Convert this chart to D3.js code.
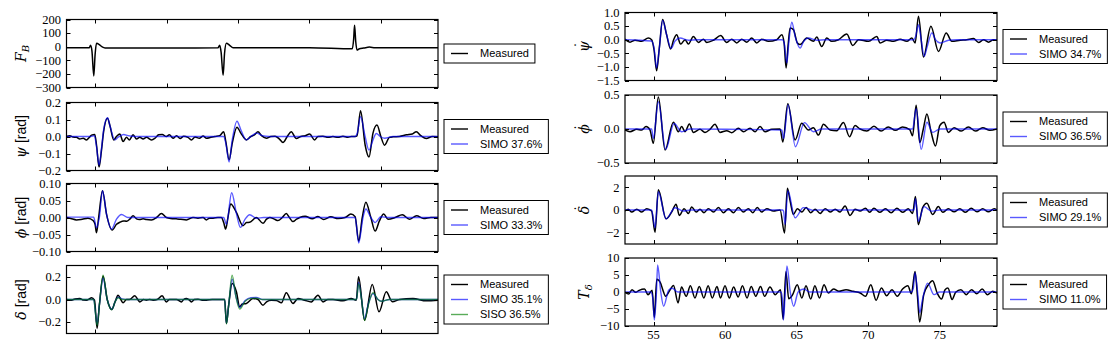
<!DOCTYPE html>
<html>
<head>
<meta charset="utf-8">
<script src="https://cdnjs.cloudflare.com/ajax/libs/d3/7.8.5/d3.min.js"></script>
<style>
  body { margin: 0; background: #fff; }
  svg { display: block; }
</style>
</head>
<body>
<svg id="chart" width="1115" height="351"></svg>
<script>
// time axis shared by every panel
const tDomain = [53, 79];
const xTicks = [55, 60, 65, 70, 75];

// ---- left column, values as [t, value] ----
const fbMeasured = [[53,-8],[54,-8],[54.6,-7],[54.68,10],[54.78,-30],[54.91,-215],[55.0,-60],[55.1,25],[55.3,15],[55.5,-2],[55.7,-9],[57,-9],[60,-9],[63.6,-8],[63.72,10],[63.82,-40],[63.96,-210],[64.06,-50],[64.19,25],[64.4,12],[64.66,-8],[67,-8],[70,-7],[73.0,-15],[73.1,60],[73.16,158],[73.24,40],[73.33,-25],[73.5,-15],[73.8,-10],[74.2,-3],[74.6,-8],[79,-7]];

const psiMeasured = [[53,0],[53.23,0.005],[53.45,-0.003],[53.7,-0.005],[53.93,-0.015],[54.17,-0.01],[54.4,-0.02],[54.6,-0.005],[54.75,0.008],[54.98,0.012],[55.1,-0.05],[55.28,-0.18],[55.45,-0.08],[55.6,0.03],[55.87,0.107],[56.05,0.06],[56.3,-0.02],[56.5,0],[56.73,0.015],[56.96,-0.03],[57.2,-0.005],[57.4,-0.02],[57.66,0.01],[57.9,-0.015],[58.13,-0.005],[58.36,-0.015],[58.6,-0.005],[58.94,-0.02],[59.2,-0.01],[59.45,0.01],[59.7,0.012],[59.99,0],[60.2,0.01],[60.46,-0.01],[60.7,0.005],[60.95,-0.012],[61.2,0.002],[61.5,-0.005],[61.74,-0.02],[62.0,-0.003],[62.3,-0.01],[62.56,0.003],[62.8,-0.01],[63.1,-0.005],[63.4,0],[63.72,0.005],[64.0,0.028],[64.15,-0.03],[64.38,-0.137],[64.6,-0.04],[64.93,0.055],[65.2,0.02],[65.59,-0.02],[65.9,0],[66.15,0.01],[66.4,0.028],[66.65,0.005],[66.99,-0.01],[67.3,0],[67.6,0.002],[67.9,-0.015],[68.15,-0.035],[68.45,0],[68.73,0.028],[69.08,-0.012],[69.4,0],[69.7,0.005],[70.02,0.014],[70.37,-0.02],[70.6,0],[70.95,0.002],[71.3,-0.005],[71.65,0],[72.0,-0.005],[72.35,0.002],[72.7,-0.005],[72.93,0],[73.2,0],[73.33,0.004],[73.58,0.152],[73.9,-0.05],[74.17,-0.121],[74.45,0.02],[74.73,0.067],[75.0,0],[75.26,-0.051],[75.6,-0.005],[75.85,-0.002],[76.3,0],[76.8,0.01],[77.2,0.015],[77.48,0.028],[77.8,0.005],[78.18,-0.012],[78.6,0],[79,-0.002]];
const psiSimo = [[53,0],[54.7,0],[54.95,0.005],[55.1,-0.06],[55.28,-0.17],[55.45,-0.07],[55.6,0.04],[55.87,0.11],[56.05,0.06],[56.38,-0.02],[56.6,-0.005],[57.0,0.012],[57.3,0.005],[57.8,0],[64.0,0],[64.15,-0.04],[64.38,-0.15],[64.6,-0.02],[64.93,0.09],[65.2,0.04],[65.59,-0.02],[65.9,0],[66.3,0.02],[66.7,0.005],[67.2,0],[73.2,0],[73.35,0.02],[73.58,0.117],[73.9,0],[74.17,-0.08],[74.45,-0.02],[74.68,0.018],[74.95,0],[75.26,-0.01],[75.85,0],[79,0]];

const phiMeasured = [[53,0],[53.3,-0.003],[53.7,-0.007],[54.1,-0.005],[54.5,-0.002],[54.86,-0.009],[55.0,-0.02],[55.1,-0.045],[55.25,0],[55.52,0.079],[55.8,0.01],[56.2,-0.037],[56.5,-0.02],[56.73,-0.014],[57.0,-0.01],[57.2,-0.011],[57.45,-0.004],[57.66,0.005],[57.9,-0.004],[58.1,-0.006],[58.36,-0.004],[58.6,-0.006],[58.94,-0.007],[59.3,0],[59.64,0.012],[59.99,0],[60.3,-0.003],[60.69,-0.004],[61.0,-0.005],[61.39,-0.007],[61.86,0],[62.2,-0.002],[62.56,0],[62.79,-0.007],[63.0,-0.002],[63.26,-0.002],[63.6,0],[63.84,0],[64.0,-0.015],[64.14,-0.034],[64.3,0],[64.49,0.04],[64.89,0.015],[65.35,-0.024],[65.6,-0.015],[65.82,-0.014],[66.29,0],[66.75,-0.017],[67.0,-0.005],[67.22,0],[67.6,-0.006],[67.8,-0.009],[68.1,0],[68.38,0.012],[68.6,0],[68.85,-0.012],[69.1,-0.005],[69.32,0],[69.7,0.004],[70.2,-0.004],[70.6,0.003],[71.0,-0.006],[71.5,0.002],[72.0,-0.003],[72.5,0],[72.9,0.01],[73.2,0.002],[73.45,-0.07],[73.7,0],[73.95,0.045],[74.3,0],[74.6,-0.04],[74.9,-0.01],[75.2,0.01],[75.5,-0.005],[76.0,0],[76.5,0.008],[77.0,-0.005],[77.5,0.005],[78.0,-0.003],[78.5,0],[79,0]];
const phiSimo = [[53,0.001],[54.9,0.001],[55.1,-0.03],[55.3,0],[55.52,0.079],[55.8,0.01],[56.15,-0.034],[56.5,-0.005],[56.85,0.009],[57.3,0],[57.8,0],[64.0,0],[64.19,-0.02],[64.56,0.073],[64.9,0.01],[65.17,-0.029],[65.5,-0.005],[65.82,0.008],[66.3,-0.002],[66.8,0],[73.2,0],[73.45,-0.075],[73.75,0],[73.95,0.025],[74.3,0],[74.6,-0.015],[75.0,0.002],[75.5,0],[79,0]];

const deltaMeasured = [[53,0],[53.35,-0.006],[53.6,0.005],[53.93,0.009],[54.2,-0.005],[54.4,-0.006],[54.6,0.005],[54.75,0.015],[54.96,-0.006],[55.14,-0.256],[55.3,-0.05],[55.56,0.206],[55.85,0],[56.17,-0.088],[56.4,-0.02],[56.61,0.038],[56.8,0],[56.96,-0.029],[57.2,0],[57.4,0],[57.78,0.032],[58.01,-0.005],[58.13,-0.021],[58.4,0],[58.59,-0.006],[58.8,0],[59.06,-0.006],[59.35,0],[59.69,0.032],[59.99,-0.021],[60.2,0],[60.46,0],[60.7,0],[61.04,-0.021],[61.2,0],[61.39,0.009],[61.55,0],[61.74,-0.021],[61.95,0],[62.21,0.003],[62.5,-0.006],[62.79,-0.006],[63.2,0],[63.72,0],[64.07,0],[64.19,-0.212],[64.35,-0.05],[64.59,0.141],[64.89,0.068],[65.12,-0.065],[65.3,-0.04],[65.59,-0.035],[66.05,0.009],[66.4,0],[66.75,-0.05],[67.0,-0.02],[67.34,-0.006],[67.7,-0.01],[68.04,-0.029],[68.38,0.06],[68.85,-0.035],[69.2,0.009],[69.66,-0.006],[70.13,-0.021],[70.6,0.038],[70.95,-0.021],[71.3,0],[71.65,0],[72.35,-0.012],[72.93,0.009],[73.28,-0.006],[73.44,0.2],[73.86,-0.182],[74.4,0.132],[74.87,-0.109],[75.38,0.068],[75.8,-0.02],[76.31,0],[77.25,0.009],[78.18,-0.012],[79,-0.006]];
const deltaSimo = [[53,0],[54.9,0],[55.14,-0.22],[55.3,-0.05],[55.56,0.19],[55.85,0],[56.17,-0.088],[56.4,-0.02],[56.61,0.02],[56.9,0.005],[57.3,0],[64.07,0],[64.19,-0.212],[64.35,-0.05],[64.59,0.18],[64.85,0.03],[65.12,-0.07],[65.5,-0.01],[65.9,0.015],[66.29,0.018],[66.7,0],[73.3,0],[73.44,0.15],[73.65,0],[73.86,-0.17],[74.1,-0.05],[74.45,0.053],[74.8,0],[75.03,-0.015],[75.6,0],[79,0]];
const deltaSiso = [[53,0],[54.9,0],[55.14,-0.23],[55.3,-0.05],[55.56,0.215],[55.85,0],[56.17,-0.09],[56.4,-0.02],[56.61,0.015],[56.9,0],[57.3,0],[64.07,0],[64.19,-0.215],[64.35,-0.05],[64.59,0.215],[64.85,0.03],[65.12,-0.085],[65.5,-0.015],[65.9,0.01],[66.29,0.012],[66.7,0],[73.3,0],[73.44,0.14],[73.65,0],[73.86,-0.185],[74.1,-0.06],[74.45,0.06],[74.8,0],[75.03,-0.015],[75.6,0],[79,0]];

// ---- right column ----
const psiDotMeasured = [[53,0.02],[53.35,-0.09],[53.7,-0.02],[54.17,-0.06],[54.63,0.06],[54.86,0],[55.03,-0.37],[55.21,-1.14],[55.4,-0.3],[55.63,0.74],[55.9,0.2],[56.19,-0.34],[56.4,0],[56.61,0.18],[56.89,-0.16],[57.2,0],[57.43,-0.16],[57.78,0.12],[58.13,-0.1],[58.48,0.02],[58.71,-0.1],[59.18,-0.02],[59.69,0.15],[60.11,-0.1],[60.46,0.02],[60.81,-0.12],[61.16,0.02],[61.51,-0.09],[61.86,0.06],[62.21,-0.12],[62.56,0.02],[63.02,-0.06],[63.61,0],[63.96,0.18],[64.12,-0.12],[64.26,-1.04],[64.4,-0.2],[64.54,0.43],[64.77,0.37],[65.05,-0.12],[65.24,-0.18],[65.7,0.06],[66.17,-0.06],[66.4,0.1],[66.75,-0.25],[67.1,0.06],[67.45,-0.06],[67.92,0],[68.5,0.21],[68.92,-0.21],[69.32,0],[70.02,-0.06],[70.6,0.12],[70.83,-0.12],[71.3,-0.02],[71.76,-0.06],[72.23,0.02],[72.7,-0.06],[73.05,0.06],[73.28,-0.12],[73.51,0.86],[73.86,-0.64],[74.38,0.49],[74.91,-0.43],[75.45,0.25],[75.84,-0.06],[76.43,-0.02],[76.89,0],[77.36,0.04],[77.71,-0.1],[78.06,0],[78.41,-0.09],[78.76,0],[79,-0.02]];
const psiDotSimo = [[53,0],[54.86,-0.05],[55.03,-0.3],[55.21,-1.04],[55.4,-0.3],[55.63,0.71],[55.9,0.2],[56.22,-0.32],[56.5,-0.05],[56.85,0.06],[57.43,-0.02],[58.0,0],[64.0,0],[64.12,-0.1],[64.31,-0.86],[64.45,-0.1],[64.66,0.64],[64.9,0.1],[65.24,-0.31],[65.5,-0.05],[65.82,0.06],[66.4,-0.02],[67.0,0],[73.16,0],[73.3,0.1],[73.51,0.55],[73.7,0],[73.91,-0.61],[74.1,-0.3],[74.45,0.25],[74.7,0],[75.03,-0.12],[75.61,-0.02],[76.2,0],[79,0]];

const phiDotMeasured = [[53,-0.015],[53.35,-0.04],[53.82,-0.005],[54.17,-0.015],[54.47,0.035],[54.75,-0.015],[54.98,-0.21],[55.33,0.47],[55.8,-0.31],[56.38,0.1],[56.73,-0.04],[56.96,0.035],[57.2,-0.04],[57.5,0.074],[57.78,-0.05],[58.24,-0.005],[58.59,-0.05],[58.94,-0.005],[59.29,0.07],[59.64,-0.05],[60.11,-0.025],[60.46,-0.054],[60.93,0.01],[61.28,-0.04],[61.74,0.01],[62.09,-0.04],[62.44,0.035],[62.79,-0.04],[63.26,-0.005],[63.84,0],[64.03,-0.19],[64.38,0.37],[64.89,-0.16],[65.35,0.084],[65.82,-0.015],[66.17,0.02],[66.52,-0.09],[66.87,0.07],[67.34,-0.015],[67.8,-0.025],[68.27,0.094],[68.69,-0.113],[69.08,0.05],[69.43,0],[69.9,-0.03],[70.4,0.04],[70.9,-0.03],[71.4,0.03],[71.9,-0.02],[72.4,0.03],[72.9,-0.01],[73.1,-0.1],[73.35,0.35],[73.6,-0.2],[73.85,0],[74.1,0.22],[74.4,-0.05],[74.7,-0.25],[75.0,0.05],[75.3,0.1],[75.6,-0.05],[76.0,0.02],[76.5,-0.03],[77.0,0.03],[77.5,-0.03],[78.0,0.02],[78.5,-0.02],[79,0]];
const phiDotSimo = [[53,0],[54.86,0],[54.98,-0.14],[55.33,0.4],[55.84,-0.3],[56.43,0.08],[56.96,-0.04],[57.55,0],[63.96,-0.015],[64.08,-0.14],[64.4,0.355],[64.91,-0.26],[65.54,0.094],[66.17,-0.04],[66.75,0],[73.1,0],[73.35,0.3],[73.7,-0.3],[74.1,0.1],[74.5,-0.05],[75.0,0],[79,0]];

const deltaDotMeasured = [[53,-0.09],[53.23,0.06],[53.47,-0.18],[53.82,0.06],[54.17,-0.18],[54.52,0.12],[54.86,-0.09],[55.1,-1.97],[55.33,1.79],[55.87,-0.78],[56.26,-0.18],[56.57,0.51],[56.8,-0.48],[57.13,0.12],[57.43,-0.3],[57.66,0.27],[57.97,-0.18],[58.24,0.06],[58.52,-0.24],[58.83,0.12],[59.18,-0.18],[59.53,0.21],[59.88,-0.24],[60.23,0.12],[60.58,-0.24],[60.93,0.21],[61.28,-0.18],[61.62,0.12],[61.93,-0.24],[62.25,0.21],[62.56,-0.18],[62.91,0.12],[63.37,-0.09],[63.84,0],[64.15,-2.03],[64.35,1.91],[64.54,0.81],[64.77,-0.39],[65.05,0.12],[65.35,-0.18],[65.66,0.21],[65.98,-0.24],[66.29,0.06],[66.64,-0.3],[66.99,0.12],[67.34,-0.18],[67.69,0.06],[68.03,-0.18],[68.38,0.36],[68.73,-0.48],[69.08,0.06],[69.43,-0.09],[69.8,0.15],[70.1,-0.2],[70.4,0.15],[70.8,-0.2],[71.2,0.1],[71.6,-0.25],[72.0,0.15],[72.4,-0.2],[72.8,0.1],[73.1,-0.3],[73.3,1.2],[73.5,-1.3],[73.8,0.2],[74.1,0.6],[74.5,-0.4],[74.9,0.3],[75.2,-0.2],[75.6,0.1],[76.0,-0.15],[76.4,0.1],[76.8,-0.2],[77.2,0.15],[77.6,-0.15],[78.0,0.1],[78.4,-0.15],[78.8,0.1],[79,0]];
const deltaDotSimo = [[53,0],[54.86,0],[55.1,-1.58],[55.33,1.61],[55.87,-0.78],[56.5,0.2],[57.08,-0.09],[57.6,0],[64.0,0],[64.08,-0.09],[64.19,-1.28],[64.38,1.7],[64.89,-0.69],[65.47,0.21],[66.17,-0.03],[66.6,0],[73.2,0],[73.3,1.0],[73.5,-1.0],[73.9,0.3],[74.4,-0.1],[75,0],[79,0]];

const tdMeasured = [[53,-0.1],[53.25,-0.58],[53.49,0.68],[53.74,-0.1],[53.99,0.49],[54.36,0.87],[54.61,-0.78],[54.9,0.49],[55.05,-7.5],[55.22,3.78],[55.47,2.8],[55.64,0.68],[55.84,-1.26],[56.09,0.19],[56.39,1.94],[56.71,-3.2],[56.95,1.46],[57.28,-1.26],[57.57,1.84],[57.89,-1.75],[58.19,1.65],[58.51,-1.75],[58.81,1.84],[59.1,-1.75],[59.43,1.65],[59.67,-1.75],[59.99,1.84],[60.29,-1.75],[60.59,1.46],[60.91,-1.45],[61.21,1.84],[61.53,-1.75],[61.82,1.65],[62.14,-1.26],[62.47,1.65],[62.76,-1.26],[63.13,1.46],[63.5,-0.78],[63.87,0.68],[64.05,-8],[64.25,6.0],[64.44,-2.0],[64.69,-1.0],[65.04,2.13],[65.36,-1.75],[65.65,1.84],[65.98,-2.04],[66.27,1.84],[66.59,-1.75],[66.91,2.13],[67.21,-0.29],[67.58,0.87],[67.95,0.19],[68.45,0.68],[68.94,0.19],[69.44,-0.29],[69.81,-1.26],[70.18,2.13],[70.55,-2.4],[70.92,1.16],[71.29,-1.07],[71.66,0.68],[72.03,-1.26],[72.4,0.87],[72.77,1.84],[73.02,-0.5],[73.27,6.0],[73.44,-1.26],[73.59,-8.8],[73.88,-0.78],[74.21,2.13],[74.5,3.3],[74.82,-0.29],[75.12,-2.04],[75.37,0.68],[75.57,1.16],[75.86,-2.2],[76.11,-0.1],[76.48,0.68],[76.85,-0.78],[77.22,0.68],[77.59,-0.5],[77.96,0.87],[78.33,-0.78],[78.7,0.19],[79,-0.29]];
const tdSimo = [[53,0],[54.8,0],[54.95,-2],[55.05,-8.25],[55.2,0],[55.28,7.95],[55.5,0],[55.7,-4.17],[56.05,0.5],[56.3,1.1],[56.7,0],[63.9,0],[64.0,-2],[64.07,-8.25],[64.2,0],[64.32,7.66],[64.55,0],[64.79,-4.17],[65.1,0],[65.5,0.87],[65.9,0],[73.0,0],[73.15,1.0],[73.27,5.7],[73.45,0],[73.6,-6.1],[73.8,-2.0],[74.15,2.6],[74.6,-0.78],[75.0,0],[79,0]];

// legend names
const nameMeasured = "Measured";
const simoFit = ["37.6%", "33.3%", "35.1%", "34.7%", "36.5%", "29.1%", "11.0%"];
const sisoFit = ["36.5%"];

const colors = { meas: "#000", simo: "#0000ff", siso: "#008000" };

const svg = d3.select("#chart");

const colLeft = [66.5, 438];
const colRight = [625, 997];
const panelH = 68;

const panels = [
  { col: colLeft, top: 19.5, yDomain: [-300, 200], yTicks: [-300, -200, -100, 0, 100, 200], fmt: d3.format("d"),
    label: [{ t: "F", it: true }, { t: "B", it: true, sub: true }],
    series: [{ data: fbMeasured, kind: "meas", name: nameMeasured }] },
  { col: colLeft, top: 102.5, yDomain: [-0.2, 0.2], yTicks: [-0.2, -0.1, 0, 0.1, 0.2], fmt: d3.format(".1f"),
    label: [{ t: "\u03C8", it: true }, { t: " [rad]" }],
    series: [{ data: psiMeasured, kind: "meas", name: nameMeasured }, { data: psiSimo, kind: "simo", name: "SIMO " + simoFit[0] }] },
  { col: colLeft, top: 183.5, yDomain: [-0.1, 0.1], yTicks: [-0.1, -0.05, 0, 0.05, 0.1], fmt: d3.format(".2f"),
    label: [{ t: "\u03D5", it: true }, { t: " [rad]" }],
    series: [{ data: phiMeasured, kind: "meas", name: nameMeasured }, { data: phiSimo, kind: "simo", name: "SIMO " + simoFit[1] }] },
  { col: colLeft, top: 265.5, yDomain: [-0.3, 0.3], yTicks: [-0.2, 0, 0.2], fmt: d3.format(".1f"),
    label: [{ t: "\u03B4", it: true }, { t: " [rad]" }],
    series: [{ data: deltaMeasured, kind: "meas", name: nameMeasured }, { data: deltaSimo, kind: "simo", name: "SIMO " + simoFit[2] }, { data: deltaSiso, kind: "siso", name: "SISO " + sisoFit[0] }] },
  { col: colRight, top: 12.5, yDomain: [-1.5, 1.0], yTicks: [-1.5, -1, -0.5, 0, 0.5, 1], fmt: d3.format(".1f"),
    label: [{ t: "\u03C8", it: true }], dot: true,
    series: [{ data: psiDotMeasured, kind: "meas", name: nameMeasured }, { data: psiDotSimo, kind: "simo", name: "SIMO " + simoFit[3] }] },
  { col: colRight, top: 95, yDomain: [-0.5, 0.5], yTicks: [-0.5, 0, 0.5], fmt: d3.format(".1f"),
    label: [{ t: "\u03D5", it: true }], dot: true,
    series: [{ data: phiDotMeasured, kind: "meas", name: nameMeasured }, { data: phiDotSimo, kind: "simo", name: "SIMO " + simoFit[4] }] },
  { col: colRight, top: 176, yDomain: [-3, 3], yTicks: [-2, 0, 2], fmt: d3.format("d"),
    label: [{ t: "\u03B4", it: true }], dot: true,
    series: [{ data: deltaDotMeasured, kind: "meas", name: nameMeasured }, { data: deltaDotSimo, kind: "simo", name: "SIMO " + simoFit[5] }] },
  { col: colRight, top: 258, yDomain: [-10, 10], yTicks: [-10, -5, 0, 5, 10], fmt: d3.format("d"), xLabels: true,
    label: [{ t: "T", it: true }, { t: "\u03B4", it: true, sub: true }],
    series: [{ data: tdMeasured, kind: "meas", name: nameMeasured }, { data: tdSimo, kind: "simo", name: "SIMO " + simoFit[6] }] },
];

const serif = "'Liberation Serif', 'DejaVu Serif', serif";
const mathFont = "'DejaVu Serif', serif";
const sans = "'Liberation Sans', Arial, sans-serif";

panels.forEach((p, i) => {
  const x = d3.scaleLinear().domain(tDomain).range(p.col);
  const y = d3.scaleLinear().domain(p.yDomain).range([p.top + panelH, p.top]);
  const g = svg.append("g");

  svg.append("clipPath").attr("id", "clip" + i)
    .append("rect").attr("x", p.col[0]).attr("y", p.top)
    .attr("width", p.col[1] - p.col[0]).attr("height", panelH);

  const line = d3.line()
    .x(d => x(d[0]))
    .y(d => y(d[1]))
    .curve(d3.curveMonotoneX);

  g.append("g").attr("clip-path", `url(#clip${i})`)
    .selectAll("path")
    .data(p.series)
    .join("path")
    .attr("d", d => line(d.data))
    .attr("fill", "none")
    .attr("stroke", d => colors[d.kind])
    .attr("stroke-opacity", d => d.kind === "meas" ? 1 : 0.65)
    .attr("stroke-width", d => d.kind === "meas" ? 1.5 : 1.4)
    .attr("stroke-linejoin", "round");

  // ticks, inward on all four sides
  const tk = 4;
  const ticks = g.append("g").attr("stroke", "#000").attr("stroke-width", 1);
  xTicks.forEach(v => {
    const xx = Math.round(x(v)) + 0.5;
    ticks.append("line").attr("x1", xx).attr("x2", xx).attr("y1", p.top + panelH).attr("y2", p.top + panelH - tk);
    ticks.append("line").attr("x1", xx).attr("x2", xx).attr("y1", p.top).attr("y2", p.top + tk);
  });
  p.yTicks.forEach(v => {
    const yy = Math.round(y(v)) + 0.5;
    ticks.append("line").attr("x1", p.col[0]).attr("x2", p.col[0] + tk).attr("y1", yy).attr("y2", yy);
    ticks.append("line").attr("x1", p.col[1]).attr("x2", p.col[1] - tk).attr("y1", yy).attr("y2", yy);
  });

  g.append("rect")
    .attr("x", p.col[0]).attr("y", p.top)
    .attr("width", p.col[1] - p.col[0]).attr("height", panelH)
    .attr("fill", "none").attr("stroke", "#000").attr("stroke-width", 1.2);

  // y tick labels
  g.append("g").selectAll("text")
    .data(p.yTicks)
    .join("text")
    .attr("x", p.col[0] - 5.5)
    .attr("y", d => y(d))
    .attr("dy", "0.34em")
    .attr("text-anchor", "end")
    .attr("font-family", serif)
    .attr("font-size", 12.5)
    .attr("fill", "#000")
    .text(d => p.fmt(d));

  if (p.xLabels) {
    g.append("g").selectAll("text")
      .data(xTicks)
      .join("text")
      .attr("x", d => x(d))
      .attr("y", p.top + panelH + 13)
      .attr("text-anchor", "middle")
      .attr("font-family", serif)
      .attr("font-size", 12.5)
      .attr("fill", "#000")
      .text(d => d3.format("d")(d));
  }

  // y label, rotated
  const lx = p.col === colLeft ? 26 : 589;
  const lg0 = g.append("g")
    .attr("transform", `translate(${lx},${p.top + panelH / 2}) rotate(-90)`);
  const lab = lg0.append("text")
    .attr("text-anchor", "middle")
    .attr("fill", "#000");
  p.label.forEach(part => {
    const ts = lab.append("tspan")
      .attr("font-family", part.it ? mathFont : sans)
      .attr("font-style", part.it ? "italic" : "normal")
      .attr("font-size", part.sub ? 10 : 14)
      .text(part.t);
    if (part.sub) ts.attr("dy", 3);
  });
  if (p.dot) {
    // dot accent above the symbol
    lg0.append("text")
      .attr("x", 1.5).attr("y", -3.5)
      .attr("text-anchor", "middle")
      .attr("font-family", mathFont)
      .attr("font-size", 14)
      .attr("fill", "#000")
      .text("\u02D9");
  }

  // legend, centred on the panel's right side
  const lg = svg.append("g");
  const rowH = 15;
  const boxH = 4 + rowH * p.series.length;
  const lx0 = p.col[1] + 6;
  const ly0 = p.top + panelH / 2 - boxH / 2;
  const box = lg.append("rect")
    .attr("x", lx0).attr("y", ly0).attr("height", boxH)
    .attr("fill", "#fff").attr("stroke", "#000").attr("stroke-width", 1);
  let maxW = 0;
  p.series.forEach((s, j) => {
    const cy = ly0 + 2 + rowH * (j + 0.5);
    lg.append("line")
      .attr("x1", lx0 + 7).attr("x2", lx0 + 24)
      .attr("y1", cy).attr("y2", cy)
      .attr("stroke", colors[s.kind])
      .attr("stroke-opacity", s.kind === "meas" ? 1 : 0.65)
      .attr("stroke-width", 1.4);
    const t = lg.append("text")
      .attr("x", lx0 + 36).attr("y", cy).attr("dy", "0.35em")
      .attr("font-family", sans).attr("font-size", 11)
      .attr("fill", "#000")
      .text(s.name);
    maxW = Math.max(maxW, t.node().getComputedTextLength());
  });
  box.attr("width", 36 + maxW + 6);
});
</script>
</body>
</html>
